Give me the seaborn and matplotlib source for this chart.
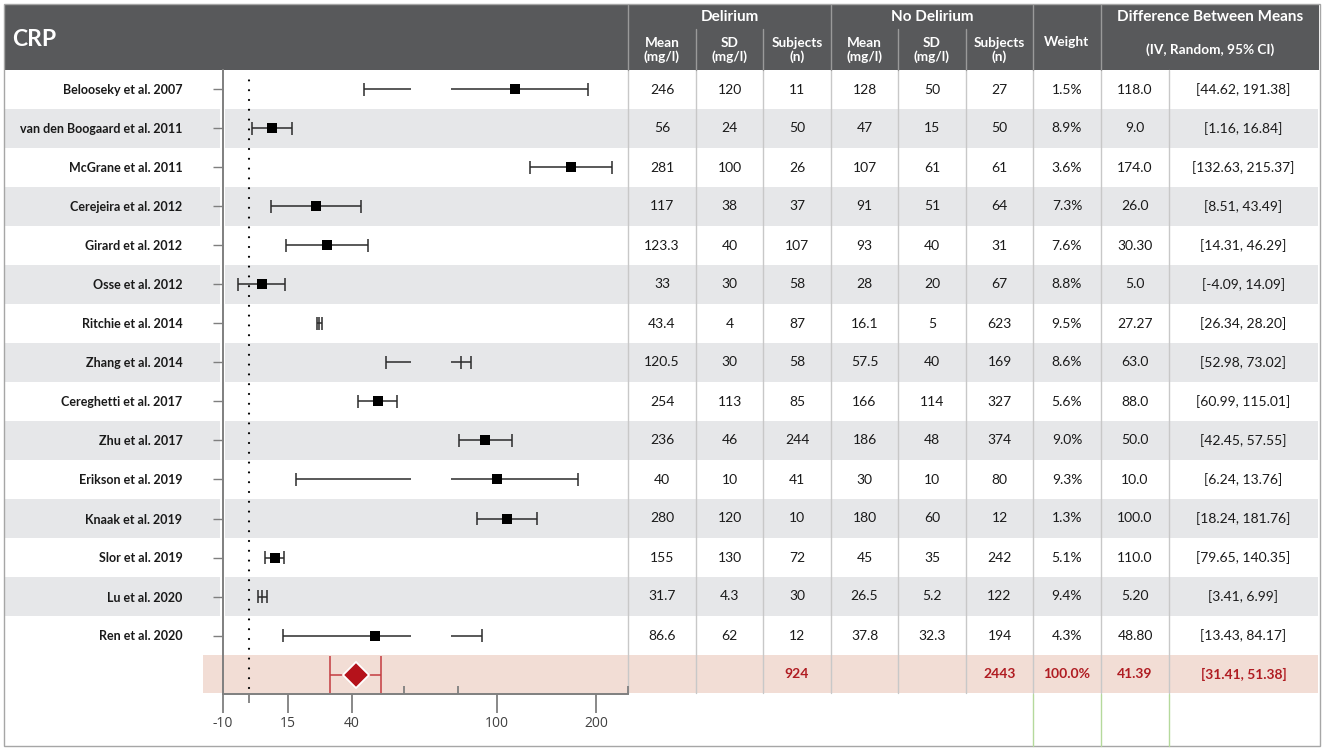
import numpy as np
import matplotlib
matplotlib.use("Agg")
import matplotlib.pyplot as plt
import seaborn as sns
from matplotlib.patches import Rectangle

# ---------------- data ----------------
studies = ["Belooseky et al. 2007", "van den Boogaard et al. 2011", "McGrane et al. 2011",
           "Cerejeira et al. 2012", "Girard et al. 2012", "Osse et al. 2012",
           "Ritchie et al. 2014", "Zhang et al. 2014", "Cereghetti et al. 2017",
           "Zhu et al. 2017", "Erikson et al. 2019", "Knaak et al. 2019",
           "Slor et al. 2019", "Lu et al. 2020", "Ren et al. 2020"]
del_mean = ["246", "56", "281", "117", "123.3", "33", "43.4", "120.5", "254", "236", "40", "280", "155", "31.7", "86.6"]
del_sd = ["120", "24", "100", "38", "40", "30", "4", "30", "113", "46", "10", "120", "130", "4.3", "62"]
del_n = ["11", "50", "26", "37", "107", "58", "87", "58", "85", "244", "41", "10", "72", "30", "12"]
nod_mean = ["128", "47", "107", "91", "93", "28", "16.1", "57.5", "166", "186", "30", "180", "45", "26.5", "37.8"]
nod_sd = ["50", "15", "61", "51", "40", "20", "5", "40", "114", "48", "10", "60", "35", "5.2", "32.3"]
nod_n = ["27", "50", "61", "64", "31", "67", "623", "169", "327", "374", "80", "12", "242", "122", "194"]
weights = ["1.5%", "8.9%", "3.6%", "7.3%", "7.6%", "8.8%", "9.5%", "8.6%", "5.6%", "9.0%", "9.3%", "1.3%", "5.1%", "9.4%", "4.3%"]
diff_txt = ["118.0", "9.0", "174.0", "26.0", "30.30", "5.0", "27.27", "63.0", "88.0", "50.0", "10.0", "100.0", "110.0", "5.20", "48.80"]
ci_txt = ["[44.62, 191.38]", "[1.16, 16.84]", "[132.63, 215.37]", "[8.51, 43.49]", "[14.31, 46.29]",
          "[-4.09, 14.09]", "[26.34, 28.20]", "[52.98, 73.02]", "[60.99, 115.01]", "[42.45, 57.55]",
          "[6.24, 13.76]", "[18.24, 181.76]", "[79.65, 140.35]", "[3.41, 6.99]", "[13.43, 84.17]"]

# estimates as drawn in the forest plot
plot_est = [118.0, 9.0, 174.0, 26.0, 30.30, 5.0, 27.27, 63.0, 50.0, 88.0, 100.0, 110.0, 10.0, 5.20, 48.80]
plot_lo = [44.62, 1.16, 132.63, 8.51, 14.31, -4.09, 26.34, 52.98, 42.45, 60.99, 18.24, 79.65, 6.24, 3.41, 13.43]
plot_hi = [191.38, 16.84, 215.37, 43.49, 46.29, 14.09, 28.20, 73.02, 57.55, 115.01, 181.76, 140.35, 13.76, 6.99, 84.17]
show_square = [True, True, True, True, True, True, False, False, True, True, True, True, True, False, True]

pooled_est, pooled_lo, pooled_hi = 41.39, 31.41, 51.38
total_row = {2: "924", 5: "2443", 6: "100.0%", 7: "41.39", 8: "[31.41, 51.38]"}
tick_vals = [-10, 15, 40, 100, 200]
tick_labels = ["-10", "15", "40", "100", "200"]

# ---------------- broken x scale ----------------
BREAK, GAP, RATIO = 60.0, 20.9, 0.3837
STUB_L, STUB_R = 62.8, 78.3   # axis units where broken lines stop / restart


def pos(v):
    v = np.asarray(v, dtype=float)
    return np.where(v <= BREAK, v, BREAK + GAP + (v - BREAK) * RATIO)


# ---------------- style ----------------
sns.set_theme(style="white")
plt.rcParams['font.family'] = ['Lato', 'DejaVu Sans']

W, H = 1325, 751
fig = plt.figure(figsize=(W / 100, H / 100), dpi=100)
bg = fig.add_axes([0, 0, 1, 1])
bg.set_xlim(0, W)
bg.set_ylim(H, 0)
bg.axis("off")

ROW_TOP, ROW_H, NROW = 70, 39, 15
AX_L, AX_R = 223, 628
AX_B = ROW_TOP + ROW_H * (NROW + 1)
RIGHT = 1318
GRAY_BAND = "#e6e7e9"
PINK = "#f2ddd5"
RED = "#b01c22"
LINE = "#c8c8c8"

# row bands
for i in range(NROW):
    top = ROW_TOP + ROW_H * i
    col = "white" if i % 2 == 0 else GRAY_BAND
    bg.add_patch(Rectangle((5, top), 215, ROW_H, color=col, lw=0))
    bg.add_patch(Rectangle((225, top), RIGHT - 225, ROW_H, color=col, lw=0))
bg.add_patch(Rectangle((203, ROW_TOP + ROW_H * NROW), RIGHT - 203, ROW_H - 1, color=PINK, lw=0))

# header
bg.add_patch(Rectangle((5, 5), RIGHT - 4, ROW_TOP - 5, color="#58595b", lw=0))
col_lines = [628, 696, 763, 831, 898, 966, 1033, 1101, 1169]
for x in col_lines:
    bg.plot([x, x], [ROW_TOP, AX_B - 1], color=LINE, lw=1)
for x in [628, 831, 1033, 1101]:
    bg.plot([x, x], [5, ROW_TOP], color="#9a9a9a", lw=1)
for x in [696, 763, 898, 966]:
    bg.plot([x, x], [29, ROW_TOP], color="#9a9a9a", lw=1)
for x in [1033, 1101, 1169]:
    bg.plot([x, x], [AX_B, 746], color="#b5d99c", lw=1)
bg.add_patch(Rectangle((4, 4), 1316, 742, fill=False, ec="#a6a6a6", lw=1))

hkw = dict(color="white", fontweight="bold", ha="center", va="center")
bg.text(12, 40, "CRP", color="white", fontweight="bold", fontsize=16.5, ha="left", va="center")
bg.text(729.5, 17, "Delirium", fontsize=11, **hkw)
bg.text(932, 17, "No Delirium", fontsize=11, **hkw)
bg.text(1067, 42, "Weight", fontsize=9.8, **hkw)
bg.text(1210, 17, "Difference Between Means", fontsize=11, **hkw)
bg.text(1210, 50, "(IV, Random, 95% CI)", fontsize=9.8, **hkw)
subs = ["Mean\n(mg/l)", "SD\n(mg/l)", "Subjects\n(n)"]
centers = [(a + b) / 2 for a, b in zip(col_lines[:-1], col_lines[1:])] + [(1169 + RIGHT) / 2]
for k in range(6):
    bg.text(centers[k], 50, subs[k % 3], fontsize=9.8, linespacing=1.15, **hkw)

# table body
columns = [del_mean, del_sd, del_n, nod_mean, nod_sd, nod_n, weights, diff_txt, ci_txt]
for c, vals in enumerate(columns):
    for i, t in enumerate(vals):
        bg.text(centers[c], ROW_TOP + ROW_H * (i + 0.5), t, fontsize=10,
                ha="center", va="center", color="#1a1a1a")
for c, t in total_row.items():
    bg.text(centers[c], ROW_TOP + ROW_H * (NROW + 0.5), t, fontsize=10, fontweight="bold",
            ha="center", va="center", color=RED)

# ---------------- forest axes ----------------
ax = fig.add_axes([AX_L / W, (H - AX_B) / H, (AX_R - AX_L) / W, (AX_B - ROW_TOP) / H])
ax.patch.set_alpha(0)
ax.set_xlim(-10, 146.9)
ax.set_ylim(NROW + 0.5, -0.5)
for s in ["top", "right"]:
    ax.spines[s].set_visible(False)
for s in ["left", "bottom"]:
    ax.spines[s].set_color("#7f7f7f")
    ax.spines[s].set_linewidth(1.4)

rows = np.arange(NROW)
ink = "#2b2b2b"
capw = 0.17
lo_p, hi_p, est_p = pos(plot_lo), pos(plot_hi), pos(plot_est)
for i in rows:
    lo, hi = plot_lo[i], plot_hi[i]
    if lo <= BREAK < hi:
        ax.hlines(i, lo_p[i], STUB_L, color=ink, lw=1.1)
        ax.hlines(i, STUB_R, hi_p[i], color=ink, lw=1.1)
    else:
        ax.hlines(i, lo_p[i], hi_p[i], color=ink, lw=1.1)
    ax.vlines([lo_p[i], hi_p[i]], i - capw, i + capw, color=ink, lw=1.1)
    if not show_square[i]:
        ax.vlines(est_p[i], i - capw, i + capw, color=ink, lw=1.1)

sq = np.array(show_square)
sns.scatterplot(x=est_p[sq], y=rows[sq], marker="s", s=42, color="black",
                edgecolor="black", linewidth=0, ax=ax, zorder=4, legend=False)

# pooled estimate
ax.hlines(NROW, pos(pooled_lo), pos(pooled_hi), color="#c43a3f", lw=1.1)
ax.vlines([pos(pooled_lo), pos(pooled_hi)], NROW - 0.48, NROW + 0.48, color="#c43a3f", lw=1.1)
ax.plot(pos(pooled_est), NROW, marker="D", markersize=13.5, color="#b5121b",
        markeredgecolor="white", markeredgewidth=1.3, zorder=5)

# line of no effect
ax.axvline(0, ymin=0.01, ymax=0.99, color="black", lw=1.6, linestyle=(0, (0.01, 4.4)),
           dash_capstyle="round")

# axes ticks
ax.set_xticks(pos(tick_vals))
ax.set_xticklabels(tick_labels, fontfamily="Open Sans")
ax.tick_params(axis="x", direction="out", length=13.5, width=1.3, color="#7f7f7f",
               labelsize=10, labelcolor="#404040", pad=2, bottom=True)
ax.set_yticks(rows)
ax.set_yticklabels(studies)
ax.tick_params(axis="y", direction="out", length=7.2, width=1.0, color="#7f7f7f",
               labelsize=9, labelcolor="#1a1a1a", pad=22, left=True)
for lbl in ax.get_yticklabels():
    lbl.set_fontweight("bold")

xt = ax.get_xaxis_transform()
ax.vlines(0, -0.0145, 0, transform=xt, color="#7f7f7f", lw=1.3, clip_on=False)
ax.vlines([pos(BREAK - 1e-9), BREAK + GAP, 146.8], 0, 0.0128, transform=xt,
          color="#7f7f7f", lw=1.3, clip_on=False)

fig.savefig("out.png", dpi=100)
